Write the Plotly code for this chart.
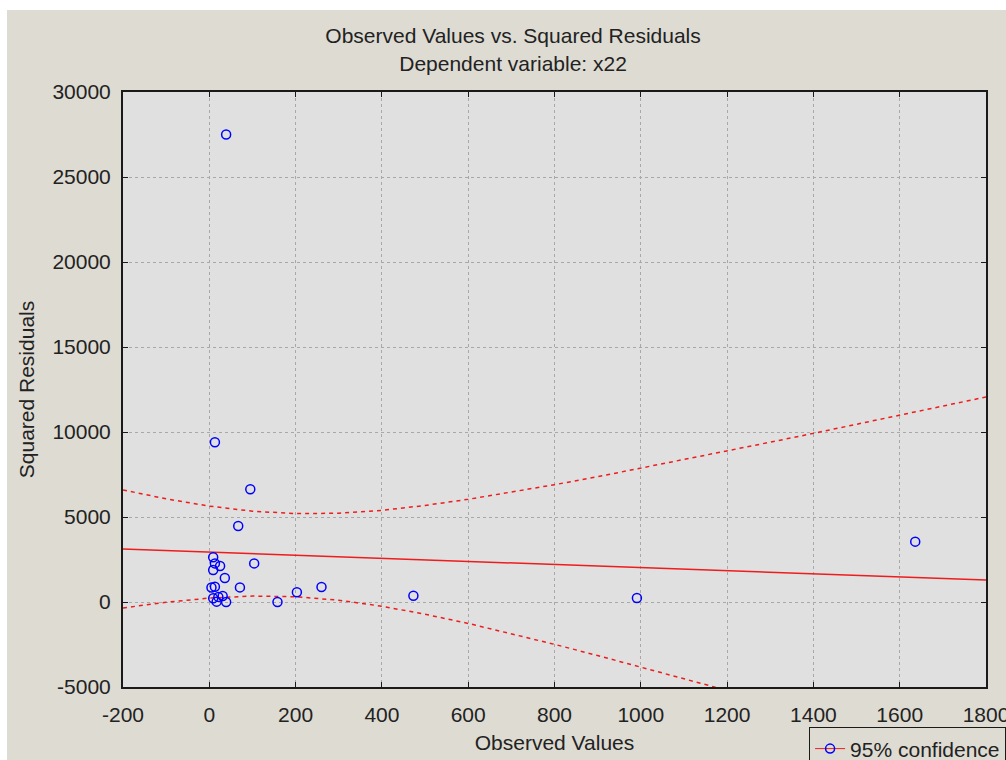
import plotly.graph_objects as go

obs_x = [39, 13, 95, 67, 1636, 9, 13, 25, 9, 104, 36, 5, 13, 71, 9, 31, 21, 17, 39, 158, 203, 260, 473, 991]
sq_res = [27500, 9400, 6630, 4470, 3550, 2630, 2270, 2120, 1880, 2270, 1410, 850, 900, 860, 220, 350, 300, 20, 0, 0, 570, 880, 370, 235]

# Regression line endpoints
fit_x = [-200, 1800]
fit_y = [3120, 1290]

# 95% confidence bands
band_x = [-200, -100, 0, 100, 200, 300, 400, 500, 600, 700, 800, 900, 1000, 1100, 1200, 1300, 1400, 1500, 1600, 1700, 1800]
band_upper = [6590, 6070, 5640, 5340, 5200, 5220, 5390, 5680, 6040, 6450, 6900, 7370, 7870, 8370, 8880, 9400, 9920, 10450, 10990, 11520, 12060]
band_lower = [-350, -15, 230, 350, 310, 105, -250, -720, -1260, -1860, -2490, -3150, -3820, -4500, -5200, -5900, -6610, -7320, -8040, -8760, -9480]

x_ticks = [-200, 0, 200, 400, 600, 800, 1000, 1200, 1400, 1600, 1800]
x_ticktext = ["-200", "0", "200", "400", "600", "800", "1000", "1200", "1400", "1600", "1800"]
y_ticks = [-5000, 0, 5000, 10000, 15000, 20000, 25000, 30000]
y_ticktext = ["-5000", "0", "5000", "10000", "15000", "20000", "25000", "30000"]

FONT = "Liberation Sans, Arial, sans-serif"
RED = "#ee1c1c"
BEIGE = "#dedbd2"

fig = go.Figure()

fig.add_trace(go.Scatter(x=band_x, y=band_upper, mode="lines",
                         line=dict(color=RED, width=1.5, dash="4px,4px"),
                         showlegend=False, hoverinfo="skip"))
fig.add_trace(go.Scatter(x=band_x, y=band_lower, mode="lines",
                         line=dict(color=RED, width=1.5, dash="4px,4px"),
                         showlegend=False, hoverinfo="skip"))
fig.add_trace(go.Scatter(x=fit_x, y=fit_y, mode="lines",
                         line=dict(color=RED, width=1.5),
                         showlegend=False, hoverinfo="skip"))
fig.add_trace(go.Scatter(x=obs_x, y=sq_res, mode="markers",
                         marker=dict(symbol="circle-open", size=9, color="#0000ff",
                                     line=dict(width=1.5, color="#0000ff")),
                         showlegend=False))
# legend entry
fig.add_trace(go.Scatter(x=[None], y=[None], mode="lines+markers", name="95% confidence",
                         line=dict(color=RED, width=1),
                         marker=dict(symbol="circle-open", size=9, color="#0000ff",
                                     line=dict(width=1.5, color="#0000ff")),
                         showlegend=True))

axis_common = dict(
    showline=True, linecolor="#1a1a1a", linewidth=2, mirror="ticks",
    ticks="inside", ticklen=5, tickcolor="#1a1a1a", tickwidth=1,
    showgrid=True, gridcolor="#a8a8a8", gridwidth=1, griddash="dot",
    zeroline=False, tickfont=dict(family=FONT, size=21, color="#222222"),
    ticklabeloverflow="allow",
)

fig.update_xaxes(range=[-200, 1800], tickvals=x_ticks, ticktext=x_ticktext,
                 title=dict(text="Observed Values", font=dict(family=FONT, size=21, color="#222222"), standoff=10),
                 ticklabelstandoff=8, automargin=False, **axis_common)
fig.update_yaxes(range=[-5000, 30000], tickvals=y_ticks, ticktext=y_ticktext,
                 title=dict(text="Squared Residuals", font=dict(family=FONT, size=21, color="#222222"), standoff=12),
                 ticklabelstandoff=6, automargin=False, **axis_common)

fig.update_layout(
    width=1006, height=760,
    margin=dict(l=123, r=20, t=92, b=73, autoexpand=False),
    paper_bgcolor=BEIGE, plot_bgcolor="#e0e0e0",
    font=dict(family=FONT, size=21, color="#222222"),
    title=dict(text="Observed Values vs. Squared Residuals<br>Dependent variable: x22",
               x=0.51, xanchor="center", y=0.943, yanchor="top", yref="container",
               font=dict(family=FONT, size=21, color="#222222")),
    legend=dict(x=0.795, xanchor="left", y=-0.068, yanchor="top",
                bgcolor=BEIGE, bordercolor="#1a1a1a", borderwidth=1,
                font=dict(family=FONT, size=21, color="#222222"),
                itemwidth=30, tracegroupgap=0),
    shapes=[
        dict(type="rect", xref="paper", yref="paper", x0=-0.2, x1=1.2, y0=1.1378, y1=1.3,
             fillcolor="white", line=dict(width=0), layer="above"),
        dict(type="rect", xref="paper", yref="paper", x0=-0.2, x1=-0.1344, y0=-0.3, y1=1.3,
             fillcolor="white", line=dict(width=0), layer="above"),
    ],
)

fig.write_html("out.html")
